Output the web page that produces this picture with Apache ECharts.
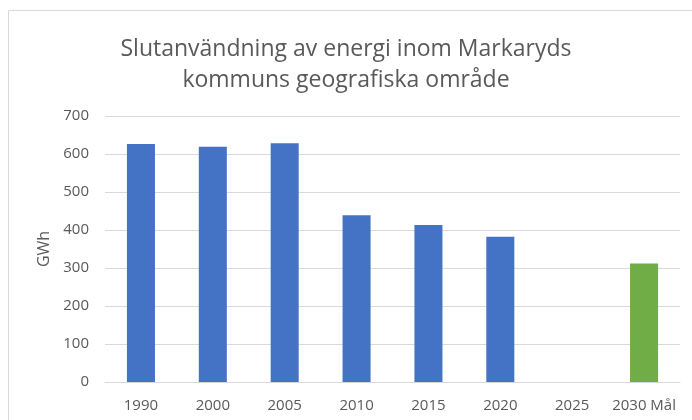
<!DOCTYPE html>
<html>
<head>
<meta charset="utf-8">
<script src="https://cdn.jsdelivr.net/npm/echarts@6/dist/echarts.min.js"></script>
<style>
  html, body { margin: 0; padding: 0; background: #fff; }
  #chart { width: 692px; height: 420px; }
</style>
</head>
<body>
<div id="chart"></div>
<script>
const categories = ['1990', '2000', '2005', '2010', '2015', '2020', '2025', '2030 Mål']
const values = [626, 619, 628, 439, 413, 382, null, 312]
const yTicks = [0, 100, 200, 300, 400, 500, 600, 700]

const blue = '#4472c4'
const green = '#70ad47'
const textColor = '#595959'

const chart = echarts.init(document.getElementById('chart'))
chart.setOption({
  animation: false,
  title: {
    text: 'Slutanvändning av energi inom Markaryds\nkommuns geografiska område',
    left: 'center', top: 29,
    textStyle: { fontFamily: 'Open Sans', fontWeight: 'normal', fontSize: 23, color: textColor, lineHeight: 31 }
  },
  graphic: [{
    type: 'rect', shape: { x: 8.5, y: 10.5, width: 700, height: 420 },
    style: { fill: 'none', stroke: '#d9d9d9', lineWidth: 1 }, silent: true
  }],
  grid: { left: 105, right: 12, top: 116, bottom: 38 },
  xAxis: {
    type: 'category', data: categories,
    axisLine: { lineStyle: { color: '#d9d9d9' } },
    axisTick: { show: false },
    axisLabel: { color: textColor, fontSize: 15, fontFamily: 'Open Sans', margin: 16, interval: 0 }
  },
  yAxis: {
    type: 'value', min: yTicks[0], max: yTicks[yTicks.length - 1], interval: 100,
    name: 'GWh', nameLocation: 'middle', nameGap: 51, nameRotate: 90,
    nameTextStyle: { color: textColor, fontSize: 16, fontFamily: 'Open Sans' },
    axisLine: { show: false }, axisTick: { show: false },
    axisLabel: { color: textColor, fontSize: 15, fontFamily: 'Open Sans', margin: 16 },
    splitLine: { lineStyle: { color: '#d9d9d9' } }
  },
  series: [{
    type: 'bar', data: values, barWidth: '39%',
    itemStyle: { color: p => p.name.indexOf('Mål') >= 0 ? green : blue }
  }]
})
</script>
</body>
</html>
